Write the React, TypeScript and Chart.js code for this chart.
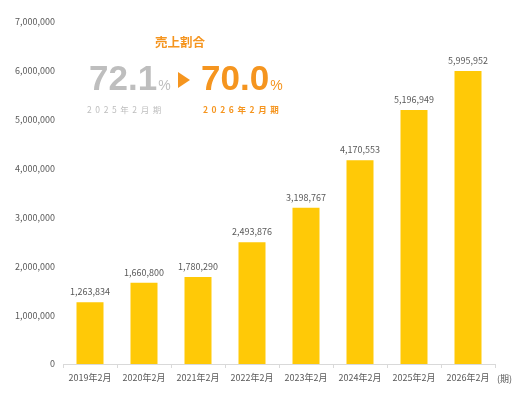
import React, { useEffect, useRef } from "react";
import { Chart, registerables } from "chart.js";

Chart.register(...registerables);

const categories = ["2019年2月", "2020年2月", "2021年2月", "2022年2月", "2023年2月", "2024年2月", "2025年2月", "2026年2月"];
const sales = [1263834, 1660800, 1780290, 2493876, 3198767, 4170553, 5196949, 5995952];
const yTicks = [0, 1000000, 2000000, 3000000, 4000000, 5000000, 6000000, 7000000];
const ratioTitle = "売上割合";
const ratioPrev = "72.1";
const ratioNext = "70.0";
const periodPrev = "2025年2月期";
const periodNext = "2026年2月期";
const axisUnit = "(期)";

const BAR = "#FFC907";
const ORANGE = "#F5951F";
const GRAY = "#BEBEBE";
const TEXT = "#595959";
const FONT = "'Noto Sans CJK JP', 'Noto Sans', sans-serif";

const fmt = (v: number) => v.toLocaleString("en-US");

export default function App() {
  const ref = useRef<HTMLCanvasElement | null>(null);

  useEffect(() => {
    document.body.style.margin = "0";
    const canvas = ref.current!;
    const labelPlugin = {
      id: "valueLabels",
      afterDatasetsDraw(chart: any) {
        const ctx = chart.ctx;
        const meta = chart.getDatasetMeta(0);
        ctx.save();
        ctx.font = `9px ${FONT}`;
        ctx.fillStyle = TEXT;
        ctx.textAlign = "center";
        ctx.textBaseline = "bottom";
        meta.data.forEach((bar: any, i: number) => {
          ctx.fillText(fmt(sales[i]), bar.x, bar.y - 6);
        });
        const xs = chart.scales.x;
        ctx.textAlign = "left";
        ctx.textBaseline = "middle";
        ctx.fillText(axisUnit, xs.right + 2, 379);
        ctx.restore();
      },
    };
    const chart = new Chart(canvas, {
      type: "bar",
      data: {
        labels: categories,
        datasets: [
          {
            data: sales,
            backgroundColor: BAR,
            borderWidth: 0,
            barPercentage: 0.5,
            categoryPercentage: 1,
          },
        ],
      },
      options: {
        animation: false,
        responsive: false,
        maintainAspectRatio: false,
        layout: { padding: { left: 0, right: 36, top: 22, bottom: 0 } },
        plugins: { legend: { display: false }, tooltip: { enabled: false } },
        scales: {
          x: {
            offset: true,
            grid: {
              display: true,
              offset: true,
              drawOnChartArea: false,
              drawTicks: true,
              tickLength: 4,
              color: "#D9D9D9",
            },
            border: { display: true, color: "#D9D9D9" },
            ticks: { color: TEXT, font: { size: 9, family: FONT }, padding: 4, maxRotation: 0, autoSkip: false },
            afterFit: (s: any) => {
              s.height = 37;
            },
          },
          y: {
            min: 0,
            max: 7000000,
            afterBuildTicks: (s: any) => {
              s.ticks = yTicks.map((v) => ({ value: v }));
            },
            grid: { display: false, drawTicks: false },
            border: { display: false },
            ticks: {
              color: TEXT,
              font: { size: 9, family: FONT },
              padding: 8,
              callback: (v: any) => fmt(Number(v)),
            },
            afterFit: (s: any) => {
              s.width = 63;
            },
          },
        },
      },
      plugins: [labelPlugin],
    });
    return () => chart.destroy();
  }, []);

  const abs = (extra: React.CSSProperties): React.CSSProperties => ({
    position: "absolute",
    whiteSpace: "nowrap",
    lineHeight: 1,
    ...extra,
  });

  return (
    <div style={{ position: "relative", width: 531, height: 401, fontFamily: "'Liberation Sans', Arial, sans-serif" }}>
      <canvas ref={ref} width={531} height={401} style={{ display: "block", width: 531, height: 401 }} />
      <div style={abs({ left: 155, top: 36, fontSize: 12.5, fontWeight: 700, color: ORANGE, fontFamily: FONT })}>{ratioTitle}</div>
      <div style={abs({ left: 89, top: 60, color: GRAY })}>
        <span style={{ fontSize: 35, fontWeight: 700 }}>{ratioPrev}</span>
        <span style={{ fontSize: 14, marginLeft: 1 }}>%</span>
      </div>
      <div
        style={abs({
          left: 178,
          top: 72,
          width: 0,
          height: 0,
          borderTop: "8px solid transparent",
          borderBottom: "8px solid transparent",
          borderLeft: `12px solid ${ORANGE}`,
        })}
      />
      <div style={abs({ left: 201, top: 60, color: ORANGE })}>
        <span style={{ fontSize: 35, fontWeight: 700 }}>{ratioNext}</span>
        <span style={{ fontSize: 14, marginLeft: 1 }}>%</span>
      </div>
      <div style={abs({ left: 87, top: 105, fontSize: 8.5, letterSpacing: 3.6, color: GRAY, fontFamily: FONT })}>{periodPrev}</div>
      <div style={abs({ left: 203, top: 105, fontSize: 8.5, letterSpacing: 3.6, fontWeight: 700, color: ORANGE, fontFamily: FONT })}>{periodNext}</div>
    </div>
  );
}
